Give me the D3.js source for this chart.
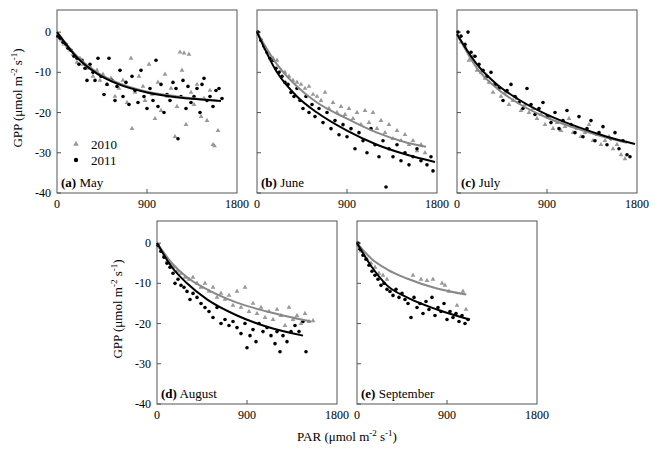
<!DOCTYPE html>
<html><head><meta charset="utf-8">
<script src="https://cdn.jsdelivr.net/npm/d3@7"></script>
<style>body{margin:0;background:#fff}</style>
</head><body>
<svg id="svg" width="660" height="451" font-family="'Liberation Serif', 'Times New Roman', Times, serif"></svg>
<script>
// panels and labels
var panelIds = ["a", "b", "c", "d", "e"]
var panelNames = ["May", "June", "July", "August", "September"]
var xTicks = [0, 900, 1800]
var yTicks = [0, -10, -20, -30, -40]
var years = ["2010", "2011"]

// scatter points [PAR, GPP]
var pts2010 = {
  a: [[10,-1],[40,-2],[70,-3],[100,-3.5],[130,-4.5],[160,-5.5],[200,-7.5],[230,-6.5],[260,-8],[300,-9],[330,-8.5],[360,-11],[400,-9.5],[430,-12],[460,-10.5],[500,-13],[540,-11.5],[580,-16],[620,-14],[660,-12],[700,-17.5],[740,-6.5],[750,-24],[780,-15],[820,-11],[860,-13.5],[880,-17],[920,-8],[950,-15.5],[980,-21.5],[1010,-12.5],[1040,-19.5],[1080,-10.5],[1100,-16],[1140,-14],[1180,-26],[1200,-18.5],[1230,-5],[1250,-9.5],[1270,-5.2],[1290,-23],[1320,-5.5],[1340,-15],[1370,-18],[1400,-13],[1440,-21],[1470,-16.5],[1500,-22],[1530,-14.5],[1560,-28],[1575,-28.3],[1610,-24.5]],
  b: [[10,-0.5],[40,-2],[80,-4],[120,-5.5],[160,-6.5],[200,-7],[240,-9.5],[280,-10],[320,-11],[360,-12],[400,-12.5],[440,-13],[480,-14],[520,-13.5],[560,-15.5],[600,-16],[640,-17],[680,-15],[720,-19],[760,-17.5],[800,-20],[840,-18.5],[880,-20.5],[920,-19],[960,-21.5],[1000,-20],[1040,-23],[1080,-19.5],[1120,-22.5],[1160,-20],[1200,-24],[1240,-22],[1280,-25],[1320,-23],[1360,-26.5],[1400,-24.5],[1440,-27],[1480,-25.5],[1520,-28],[1560,-27],[1600,-29.5],[1640,-28],[1680,-30]],
  c: [[10,-1.5],[40,-2.5],[80,-3.5],[120,-7],[160,-6],[200,-9.5],[240,-10],[280,-11.5],[320,-12.5],[360,-15],[400,-13.5],[440,-16],[480,-15],[520,-18],[560,-17],[600,-16.5],[640,-19.5],[680,-18],[720,-20],[760,-19],[800,-21.5],[840,-20.5],[880,-23],[920,-21],[960,-24],[1000,-22.5],[1040,-24.5],[1080,-23.5],[1120,-21.5],[1160,-25],[1200,-24],[1240,-26],[1280,-25],[1320,-23],[1360,-27],[1400,-25.5],[1440,-28],[1480,-27],[1520,-26],[1560,-29],[1600,-28],[1640,-30.5],[1680,-31.5]],
  d: [[10,-1],[40,-2],[70,-3],[100,-4.5],[130,-5],[160,-6],[200,-7],[240,-7.5],[280,-8.5],[320,-9],[360,-8.5],[400,-10],[440,-11],[480,-10],[520,-12],[560,-11],[600,-13.5],[640,-12.5],[680,-14],[720,-13],[760,-15.5],[800,-12],[840,-16],[880,-11],[920,-17],[960,-15],[1000,-17.5],[1040,-16],[1080,-18.5],[1120,-17],[1160,-19],[1200,-16.5],[1240,-18],[1280,-20.5],[1320,-16],[1360,-19],[1400,-18],[1440,-20],[1480,-17.5],[1520,-19.5],[1560,-19.3]],
  e: [[10,-0.5],[40,-2],[70,-3],[100,-4],[140,-5],[180,-6],[220,-7.5],[260,-8],[300,-9],[560,-8],[640,-9],[700,-9.3],[760,-9],[850,-10],[880,-10.5],[920,-12],[1000,-15.5],[1060,-12],[1090,-16.5]]
}
var pts2011 = {
  a: [[10,-1],[30,-1.5],[60,-2.5],[90,-3],[110,-4],[140,-4.5],[170,-6],[200,-6.5],[220,-8],[250,-7],[280,-9],[300,-12],[330,-8],[360,-10],[380,-12],[410,-6.5],[440,-11],[470,-15.5],[500,-13],[520,-6.5],[550,-12],[580,-17],[600,-13.5],[630,-9.5],[660,-16],[690,-12.5],[720,-18],[750,-11],[780,-14.5],[810,-17.5],[840,-9.5],[870,-16],[900,-19],[930,-14],[960,-17],[990,-7],[1010,-18.5],[1040,-13],[1070,-20],[1100,-15.5],[1130,-17],[1160,-12.5],[1190,-14],[1210,-26.5],[1240,-16],[1260,-12],[1290,-19],[1310,-13.5],[1340,-17.5],[1370,-16],[1400,-14],[1430,-20],[1450,-13],[1470,-11.5],[1500,-17],[1530,-16],[1560,-18.5],[1590,-14.5],[1620,-14],[1650,-16.5]],
  b: [[10,0],[40,-2],[70,-3.5],[100,-5],[130,-6.5],[160,-7],[190,-9],[220,-10],[250,-11],[280,-12.5],[310,-13],[340,-15],[370,-16],[400,-14],[430,-17],[460,-19],[490,-16],[520,-20],[550,-18],[580,-21],[620,-19],[660,-22.5],[700,-20],[740,-24],[780,-22],[820,-25.5],[860,-23],[900,-26],[940,-24],[980,-29],[1020,-25],[1060,-27],[1100,-30],[1140,-24],[1180,-28],[1220,-31],[1260,-27],[1290,-38.5],[1320,-29],[1360,-31],[1400,-28],[1440,-32],[1480,-30],[1520,-33],[1560,-31],[1600,-29],[1640,-32],[1700,-33],[1740,-31],[1760,-34.5]],
  c: [[10,0],[40,-1],[110,0],[80,-3],[140,-5],[180,-6],[220,-8],[260,-9.5],[300,-11],[340,-10],[380,-13],[420,-14],[460,-17],[500,-14.5],[540,-13],[580,-16],[620,-17.5],[660,-19],[700,-14],[740,-18],[780,-20.5],[820,-19],[860,-17.5],[900,-21],[940,-22.5],[980,-20],[1020,-24],[1060,-22],[1100,-19.5],[1140,-23],[1180,-25],[1220,-21],[1260,-26],[1300,-24],[1340,-22],[1380,-27],[1420,-25],[1460,-23.5],[1500,-28],[1540,-26.5],[1580,-25],[1620,-29],[1660,-27],[1700,-30.5],[1730,-31]],
  d: [[10,-0.5],[40,-2],[70,-3.5],[100,-5],[130,-6],[160,-7.5],[180,-10],[210,-9],[240,-10.5],[270,-11],[300,-12],[330,-14],[360,-12.5],[400,-13.5],[440,-15],[480,-16],[520,-17],[560,-18.5],[600,-16],[640,-20],[680,-19],[720,-20.5],[760,-19.5],[800,-21],[840,-22.5],[880,-20],[900,-26],[930,-23],[960,-21.5],[990,-24.5],[1020,-20],[1060,-22],[1100,-21],[1140,-23],[1180,-25],[1200,-22],[1230,-27],[1260,-23],[1300,-24.5],[1340,-22],[1380,-20.5],[1420,-22],[1460,-19.5],[1490,-27]],
  e: [[10,0],[30,-1.5],[60,-3],[90,-4],[120,-5.5],[150,-7],[180,-8],[210,-9],[240,-10.5],[270,-10],[300,-11.5],[330,-12],[360,-13],[390,-11.5],[420,-13.5],[450,-12.5],[480,-14],[510,-15],[540,-18.5],[570,-13.5],[600,-16],[630,-15],[660,-17.5],[690,-14.5],[720,-16.5],[750,-13.5],[780,-18],[810,-16],[840,-17],[870,-15],[900,-19],[930,-17],[960,-18.5],[990,-17.5],[1020,-19.5],[1050,-18],[1080,-20],[1110,-19]]
}

// fitted light-response curves [PAR, GPP]
var fit2010 = {
  a: [[0,0],[200,-6],[400,-10],[600,-12.5],[900,-14.8],[1200,-16],[1600,-17]],
  b: [[0,0],[200,-8],[400,-13.5],[600,-17.5],[900,-21.5],[1200,-25],[1500,-27.5],[1690,-28.5]],
  c: [[0,-0.5],[200,-9],[400,-14],[600,-17.5],[900,-21.3],[1200,-24],[1500,-26.3],[1700,-27.5]],
  d: [[0,0],[150,-5],[300,-8.5],[500,-11.5],[800,-14.8],[1100,-17],[1540,-19.5]],
  e: [[0,0],[150,-4],[300,-6.5],[500,-8.8],[800,-11.3],[1093,-12.8]]
}
var fit2011 = {
  a: [[0,0],[200,-6.3],[400,-10.3],[600,-12.8],[900,-15],[1200,-16.2],[1640,-17.1]],
  b: [[0,0],[200,-10],[400,-16],[600,-20],[900,-24.5],[1200,-28],[1500,-30.5],[1780,-32.3]],
  c: [[0,-0.5],[200,-8],[400,-13],[600,-16.5],[900,-20.5],[1200,-23.5],[1500,-26],[1780,-27.8]],
  d: [[0,0],[150,-6],[300,-10],[500,-14],[800,-18],[1100,-20.8],[1460,-23]],
  e: [[0,0],[150,-6],[300,-10.5],[500,-13.5],[800,-16.5],[1127,-19]]
}

var svg = d3.select("#svg")
var boxes = [[57, 10], [257, 10], [457, 10], [157, 221], [357, 221]]
var W = 180, H = 183

panelIds.forEach(function(id, i) {
    var bx = boxes[i][0], by = boxes[i][1]
    var x = d3.scaleLinear().domain([0, 1800]).range([bx, bx + W])
    var y = d3.scaleLinear().domain([5.5, -40]).range([by, by + H])
    var g = svg.append("g")

    g.append("rect").attr("x", bx).attr("y", by).attr("width", W).attr("height", H)
        .attr("fill", "none").attr("stroke", "#555").attr("stroke-width", 1)

    // inner ticks
    g.selectAll(".yt").data(yTicks).join("line")
        .attr("x1", bx).attr("x2", bx + 4).attr("y1", d => y(d)).attr("y2", d => y(d))
        .attr("stroke", "#555")
    g.append("line").attr("x1", x(900)).attr("x2", x(900)).attr("y1", by + H).attr("y2", by + H - 4)
        .attr("stroke", "#555")

    g.selectAll(".xl").data(xTicks).join("text")
        .attr("x", d => x(d)).attr("y", by + H + 15).attr("text-anchor", "middle")
        .attr("font-size", 12).text(d => d)
    if (i === 0 || i === 3) {
        g.selectAll(".yl").data(yTicks).join("text")
            .attr("x", bx - 6).attr("y", d => y(d) + 4).attr("text-anchor", "end")
            .attr("font-size", 12).text(d => d)
        var ty = by + 88
        var t = g.append("text").attr("transform", "translate(" + (bx - 35) + "," + ty + ") rotate(-90)")
            .attr("text-anchor", "middle").attr("font-size", 13)
        t.append("tspan").text("GPP (\u03bcmol m")
        t.append("tspan").attr("dy", -5).attr("font-size", 9).text("-2")
        t.append("tspan").attr("dy", 5).text(" s")
        t.append("tspan").attr("dy", -5).attr("font-size", 9).text("-1")
        t.append("tspan").attr("dy", 5).text(")")
    }

    var line = d3.line().x(d => x(d[0])).y(d => y(d[1])).curve(d3.curveMonotoneX)

    var tri = d3.symbol().type(d3.symbolTriangle).size(10)
    g.selectAll(".p10").data(pts2010[id]).join("path")
        .attr("d", tri).attr("transform", d => "translate(" + x(d[0]) + "," + y(d[1]) + ")")
        .attr("fill", "#999")
    g.selectAll(".p11").data(pts2011[id]).join("circle")
        .attr("cx", d => x(d[0])).attr("cy", d => y(d[1])).attr("r", 1.8).attr("fill", "#000")
    g.append("path").attr("d", line(fit2010[id])).attr("fill", "none").attr("stroke", "#888").attr("stroke-width", 2)
    g.append("path").attr("d", line(fit2011[id])).attr("fill", "none").attr("stroke", "#000").attr("stroke-width", 2)

    var lab = g.append("text").attr("x", bx + 4).attr("y", by + H - 6).attr("font-size", 13)
    lab.append("tspan").attr("font-weight", "bold").text("(" + id + ")")
    lab.append("tspan").text(" " + panelNames[i])
})

// legend in panel (a)
svg.append("path").attr("d", d3.symbol().type(d3.symbolTriangle).size(14))
    .attr("transform", "translate(76,144)").attr("fill", "#999")
svg.append("circle").attr("cx", 76).attr("cy", 160).attr("r", 2.2).attr("fill", "#000")
svg.selectAll(".lg").data(years).join("text")
    .attr("x", 91).attr("y", (d, i) => 149 + i * 16).attr("font-size", 13).text(d => d)

var xt = svg.append("text").attr("x", 347).attr("y", 441).attr("text-anchor", "middle").attr("font-size", 13)
xt.append("tspan").text("PAR (\u03bcmol m")
xt.append("tspan").attr("dy", -5).attr("font-size", 9).text("-2")
xt.append("tspan").attr("dy", 5).text(" s")
xt.append("tspan").attr("dy", -5).attr("font-size", 9).text("-1")
xt.append("tspan").attr("dy", 5).text(")")
</script>
</body></html>
